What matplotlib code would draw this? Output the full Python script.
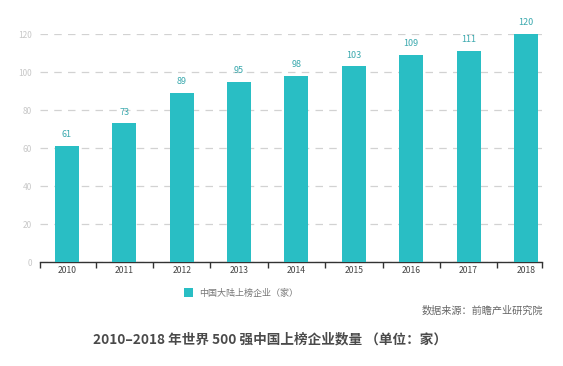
import matplotlib
matplotlib.use("Agg")
import matplotlib.pyplot as plt
import numpy as np

plt.rcParams['font.family'] = ['Noto Sans CJK SC', 'DejaVu Sans']

years = ['2010', '2011', '2012', '2013', '2014', '2015', '2016', '2017', '2018']
counts = [61, 73, 89, 95, 98, 103, 109, 111, 120]
yticks = [0, 20, 40, 60, 80, 100, 120]
legend_label = '中国大陆上榜企业（家）'
source_text = '数据来源：前瞻产业研究院'
title_text = '2010–2018 年世界 500 强中国上榜企业数量 （单位：家）'

bar_color = '#29BEC4'
label_color = '#3AA9AE'

fig = plt.figure(figsize=(5.63, 3.66), dpi=100)
ax = fig.add_axes([40/563, 1-262/366, (542-40)/563, (262-34)/366])

x = np.arange(len(years))
bars = ax.bar(x, counts, width=0.42, color=bar_color, linewidth=0, zorder=3, label=legend_label)
for xi, v in zip(x, counts):
    ax.text(xi, v + 3.5, str(v), ha='center', va='bottom', fontsize=6.5, color=label_color)

xmin, xmax = -0.47, 8.28
ax.set_yticks(yticks)
ax.set_yticklabels([str(t) for t in yticks], fontsize=6, color='#C8C8C8')
ax.tick_params(axis='y', length=0, pad=6)
ax.yaxis.grid(True, linestyle=(0, (6, 5)), color='#D2D2D2', linewidth=0.9, zorder=0)

ax.set_xticks(x)
ax.set_xticklabels(years, fontsize=6.2, color='#444444')
ax.tick_params(axis='x', length=0, pad=3)
ax.set_xticks([xmin] + list(np.arange(len(years) - 1) + 0.5) + [xmax], minor=True)
ax.tick_params(axis='x', which='minor', length=4, width=1, color='#333333', direction='out')
ax.set_xlim(xmin, xmax)
ax.set_ylim(0, 120)

for s in ['top', 'right', 'left']:
    ax.spines[s].set_visible(False)
ax.spines['bottom'].set_color('#333333')
ax.spines['bottom'].set_linewidth(1.0)

fig.legend(handles=[bars], labels=[legend_label], loc='center left',
           bbox_to_anchor=(176/563, 1-293/366), frameon=False, fontsize=6.5,
           handlelength=1.0, handleheight=1.0, handletextpad=0.7, labelcolor='#777777')

fig.text(543/563, 1-311/366, source_text, ha='right', va='center', fontsize=7.3, color='#666666')
fig.text(270/563, 1-339/366, title_text, ha='center', va='center', fontsize=9.8,
         color='#4A4A4A', fontweight='bold')

fig.savefig('out.png', dpi=100)
